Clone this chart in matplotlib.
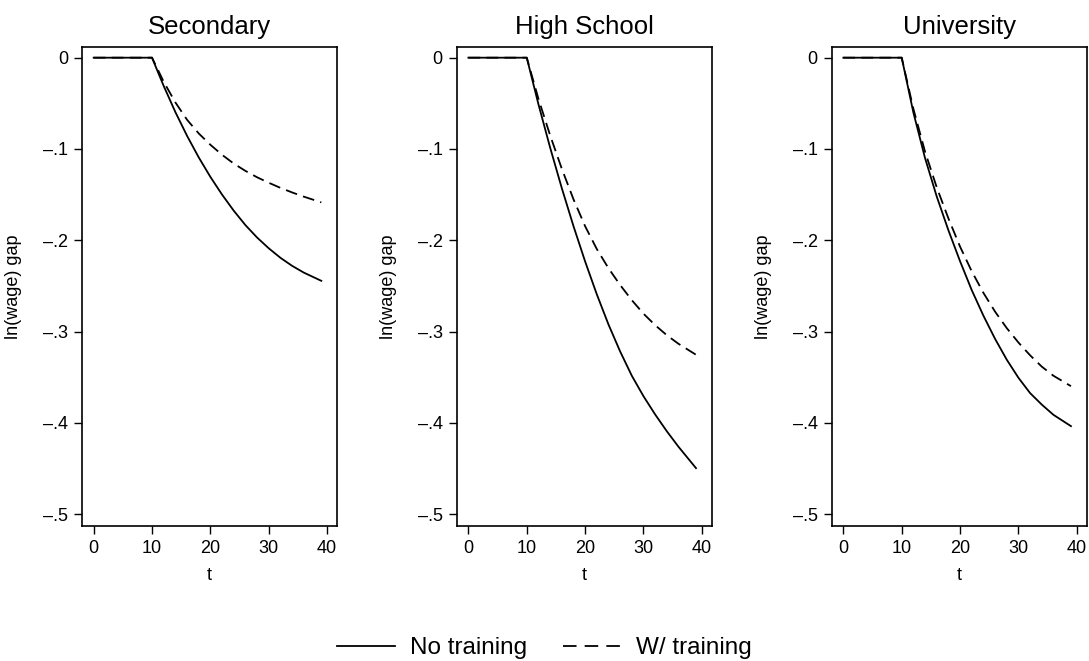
import numpy as np
import matplotlib
matplotlib.use("Agg")
import matplotlib.pyplot as plt
from matplotlib.lines import Line2D

plt.rcParams['font.family'] = ['Liberation Sans', 'DejaVu Sans']

# data (t in years, ln wage gap)
t = [0, 10, 11, 12, 13, 14, 16, 18, 20, 22, 24, 26, 28, 30, 32, 34, 36, 39]

panels = ["Secondary", "High School", "University"]

sec_no = [0, 0, -0.0156, -0.031, -0.0453, -0.0596, -0.0856, -0.1092, -0.1306, -0.1500,
          -0.1676, -0.1834, -0.1970, -0.2088, -0.2192, -0.2280, -0.2354, -0.2444]
sec_tr = [0, 0, -0.0132, -0.0264, -0.0377, -0.0490, -0.0680, -0.0830, -0.0954, -0.1064,
          -0.1160, -0.1240, -0.1310, -0.1370, -0.1426, -0.1476, -0.1522, -0.1585]

hs_no = [0, 0, -0.0255, -0.0510, -0.0747, -0.0984, -0.1428, -0.1844, -0.2232, -0.2592,
         -0.2922, -0.3218, -0.3484, -0.3708, -0.3908, -0.4092, -0.4262, -0.4496]
hs_tr = [0, 0, -0.0225, -0.0450, -0.0650, -0.0850, -0.1216, -0.1550, -0.1846, -0.2096,
         -0.2306, -0.2490, -0.2656, -0.2804, -0.2930, -0.3040, -0.3134, -0.3254]

uni_no = [0, 0, -0.0300, -0.0600, -0.0850, -0.1100, -0.1520, -0.1890, -0.2230, -0.2546,
          -0.2826, -0.3080, -0.3308, -0.3506, -0.3674, -0.3800, -0.3912, -0.4036]
uni_tr = [0, 0, -0.0280, -0.0560, -0.0795, -0.1030, -0.1420, -0.1760, -0.2070, -0.2340,
          -0.2576, -0.2782, -0.2962, -0.3120, -0.3260, -0.3384, -0.3484, -0.3598]

no_training = [sec_no, hs_no, uni_no]
w_training = [sec_tr, hs_tr, uni_tr]

xticks = [0, 10, 20, 30, 40]
yticks = [0, -0.1, -0.2, -0.3, -0.4, -0.5]
ytick_labels = ["0", "\u2013.1", "\u2013.2", "\u2013.3", "\u2013.4", "\u2013.5"]

fig = plt.figure(figsize=(10.89, 6.61), dpi=100)

lefts = [0.0753, 0.4194, 0.7637]
for i, name in enumerate(panels):
    ax = fig.add_axes([lefts[i], 0.2042, 0.2342, 0.7251])
    ax.plot(t, no_training[i], color="black", lw=1.3)
    ax.plot(t, w_training[i], color="black", lw=1.3, dashes=(6.5, 3.5))

    ax.set_xlim(-2.0, 41.7)
    ax.set_ylim(-0.513, 0.012)
    ax.set_xticks(xticks)
    ax.set_yticks(yticks)
    ax.set_yticklabels(ytick_labels)
    ax.tick_params(axis="both", direction="out", length=6, width=1, labelsize=13, pad=4, colors="black")
    for s in ax.spines.values():
        s.set_linewidth(1.2)
        s.set_color("black")

    ax.set_title(name, fontsize=18.5, pad=9)
    ax.set_xlabel("t", fontsize=13, labelpad=7)
    ax.set_ylabel("ln(wage) gap", fontsize=13)
    ax.yaxis.set_label_coords(-0.235, 0.5)

# legend handles: dashes a bit longer so that three show, as in the reference
h1 = Line2D([], [], color="black", lw=1.3, label="No training")
h2 = Line2D([], [], color="black", lw=1.3, dashes=(7.5, 4.5), label="W/ training")
fig.legend(handles=[h1, h2], loc="center", bbox_to_anchor=(0.5, 1 - 648 / 661), ncol=2,
           frameon=False, fontsize=17.5, handlelength=2.4, handletextpad=0.6, columnspacing=1.5)

fig.savefig("out.png", dpi=100, facecolor="white")
